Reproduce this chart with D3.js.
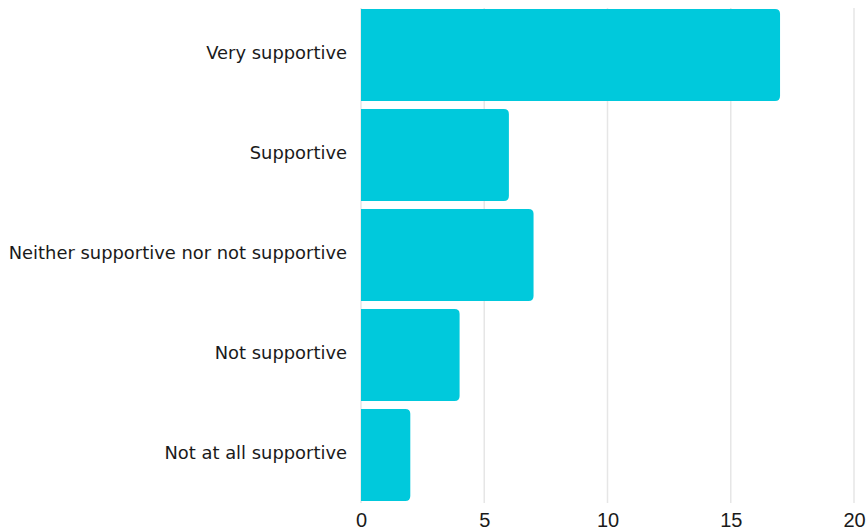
<!DOCTYPE html>
<html><head><meta charset="utf-8">
<script src="https://cdn.jsdelivr.net/npm/d3@7/dist/d3.min.js"></script>
<style>body{margin:0;background:#fff}svg{display:block}</style>
</head><body>
<svg id="c" width="867" height="531"></svg>
<script>
const categories = ["Very supportive","Supportive","Neither supportive nor not supportive","Not supportive","Not at all supportive"];
const values = [17, 6, 7, 4, 2];
const tickValues = [0, 5, 10, 15, 20];

const svg = d3.select("#c");
const x = d3.scaleLinear().domain([0, 20]).range([361, 854]);
const y = d3.scaleBand().domain(categories).range([5, 505]).paddingInner(0.08).paddingOuter(0.04);

// gridlines
svg.append("g").selectAll("line").data(tickValues).join("line")
  .attr("x1", d => x(d)).attr("x2", d => x(d))
  .attr("y1", 8).attr("y2", 503)
  .attr("stroke", "#e6e6e6").attr("stroke-width", 1.5);

// bars with rounded right corners
const r = 5;
svg.append("g").selectAll("path").data(values).join("path")
  .attr("fill", "#00c9dc")
  .attr("d", (d, i) => {
    const x0 = x(0), x1 = x(d), y0 = y(categories[i]), h = y.bandwidth();
    return `M${x0},${y0}H${x1 - r}Q${x1},${y0} ${x1},${y0 + r}V${y0 + h - r}Q${x1},${y0 + h} ${x1 - r},${y0 + h}H${x0}Z`;
  });

// category labels
svg.append("g").selectAll("text").data(categories).join("text")
  .attr("x", 347).attr("y", d => y(d) + y.bandwidth() / 2 - 2)
  .attr("dy", "0.35em").attr("text-anchor", "end")
  .attr("font-family", "'DejaVu Sans', sans-serif").attr("font-size", 17.9)
  .attr("fill", "#1a1a1a").text(d => d);

// x axis tick labels
const axis = d3.axisBottom(x).tickValues(tickValues).tickSize(0).tickPadding(0);
const ax = svg.append("g").attr("transform", "translate(0,510)").call(axis);
ax.select(".domain").remove();
ax.selectAll("text").attr("font-family", "'Liberation Sans', Arial, sans-serif")
  .attr("font-size", 20).attr("fill", "#1a1a1a").attr("dy", "0.85em");
</script>
</body></html>
